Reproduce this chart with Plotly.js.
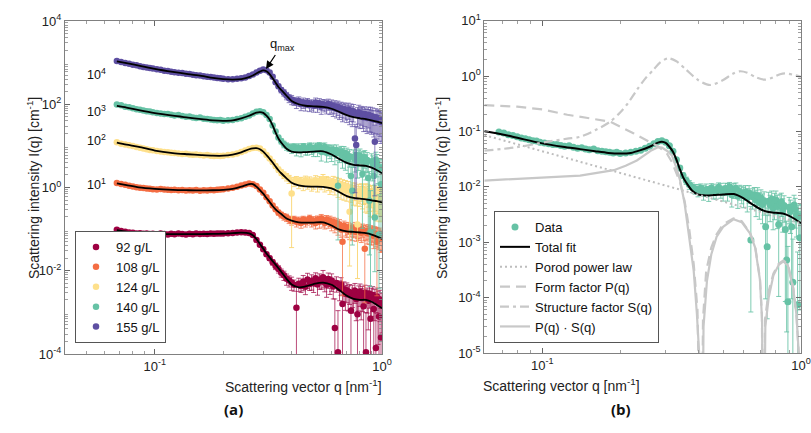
<!DOCTYPE html>
<html><head><meta charset="utf-8">
<script src="https://cdn.plot.ly/plotly-3.0.1.min.js"></script>
<style>html,body{margin:0;padding:0;background:#fff}#chart{width:811px;height:433px}</style>
</head><body><div id="chart"></div>
<script>
// ---- scattering vector grid of the measured data (nm^-1)
const Q = [
0.068,0.071,0.074,0.077,0.080,0.083,0.086,0.089,0.092,0.095,
0.098,0.102,0.106,0.110,0.114,0.118,0.122,0.127,0.132,0.137,
0.142,0.147,0.152,0.158,0.164,0.170,0.176,0.182,0.188,0.194,
0.20,0.21,0.22,0.23,0.24,0.25,0.26,0.27,0.28,0.29,
0.30,0.31,0.32,0.33,0.34,0.35,0.36,0.37,0.38,0.39,
0.40,0.41,0.42,0.43,0.44,0.45,0.46,0.47,0.48,0.49,
0.50,0.51,0.52,0.53,0.54,0.55,0.56,0.57,0.58,0.59,
0.60,0.61,0.62,0.63,0.64,0.65,0.66,0.67,0.68,0.69,
0.70,0.71,0.72,0.73,0.74,0.75,0.76,0.77,0.78,0.79,
0.80,0.81,0.82,0.83,0.84,0.85,0.86,0.87,0.88,0.89,
0.90,0.91,0.92,0.93,0.94,0.95,0.96,0.97,0.98,0.99,
1.00];

const seriesNames = ['92 g/L','108 g/L','124 g/L','140 g/L','155 g/L'];
const seriesColors = ['#9E0142','#F46D43','#FEE08B','#66C2A5','#5E4FA2'];
const errColors = ['rgba(158,1,66,0.7)','rgba(244,109,67,0.75)','rgba(250,215,120,0.95)','rgba(102,194,165,0.85)','rgba(94,79,162,0.7)'];
const shiftFactors = [1,10,100,1000,10000];
const shiftLabels = ['', '10<sup>1</sup>','10<sup>2</sup>','10<sup>3</sup>','10<sup>4</sup>'];

// ---- measured intensities I(q) in cm^-1 (unshifted)
const I92 = [
0.097,0.090,0.086,0.083,0.082,0.079,0.080,0.077,0.078,0.076,
0.077,0.075,0.078,0.076,0.074,0.077,0.075,0.078,0.076,0.074,
0.077,0.075,0.078,0.076,0.077,0.076,0.078,0.077,0.079,0.078,
0.079,0.080,0.081,0.083,0.084,0.083,0.081,0.072,0.055,0.042,
0.033,0.025,0.020,0.016,0.013,0.011,0.0090,0.0078,0.0064,0.0058,
0.0052,0.0046,0.0013,0.0049,0.0043,0.0055,0.0041,0.0062,0.0048,0.0057,
0.0050,0.0066,0.0047,0.0060,0.0055,0.0070,0.0052,0.0046,0.0063,0.0049,
0.0058,0.0042,0.00042,0.0051,0.00011,0.0038,0.0047,0.0016,0.0036,0.0028,
0.0034,0.0027,0.0031,0.0011,0.0029,0.0024,0.0033,0.0021,0.0009,0.0027,
0.0031,0.0022,0.0026,0.0014,0.0030,0.00011,0.0024,0.0019,0.0028,0.0007,
0.0023,0.0026,0.0012,0.0021,0.00014,0.0024,0.0017,0.0008,0.0020,0.00025,
0.0016];
const I108 = [
0.128,0.121,0.116,0.110,0.106,0.102,0.099,0.097,0.094,0.093,
0.091,0.090,0.092,0.089,0.088,0.087,0.088,0.086,0.087,0.085,
0.086,0.085,0.087,0.084,0.086,0.085,0.087,0.086,0.088,0.089,
0.091,0.094,0.098,0.104,0.111,0.118,0.124,0.120,0.108,0.090,
0.075,0.058,0.047,0.037,0.030,0.025,0.022,0.020,0.019,0.017,
0.016,0.017,0.015,0.016,0.014,0.017,0.015,0.016,0.018,0.015,
0.016,0.014,0.017,0.015,0.018,0.016,0.014,0.017,0.015,0.016,
0.013,0.015,0.012,0.014,0.011,0.013,0.0098,0.0050,0.012,0.0105,
0.0096,0.011,0.0090,0.010,0.0088,0.0095,0.0105,0.0085,0.0093,0.0089,
0.0094,0.0082,0.0098,0.0087,0.0034,0.0090,0.0080,0.0092,0.0078,0.0086,
0.0075,0.0083,0.0068,0.0079,0.0072,0.0050,0.0070,0.0064,0.0073,0.0061,
0.0058];
const I124 = [
0.122,0.113,0.108,0.104,0.099,0.094,0.090,0.087,0.083,0.080,
0.078,0.075,0.073,0.071,0.070,0.068,0.067,0.066,0.064,0.065,
0.062,0.061,0.062,0.060,0.059,0.060,0.058,0.057,0.058,0.057,
0.058,0.060,0.062,0.066,0.071,0.077,0.084,0.089,0.090,0.086,
0.074,0.060,0.050,0.041,0.033,0.027,0.023,0.020,0.018,0.016,
0.0072,0.014,0.015,0.013,0.014,0.012,0.015,0.013,0.014,0.012,
0.013,0.015,0.012,0.014,0.013,0.016,0.012,0.014,0.013,0.011,
0.012,0.014,0.011,0.013,0.010,0.012,0.0095,0.011,0.0090,0.0105,
0.0085,0.0098,0.0026,0.0080,0.0092,0.0075,0.0088,0.0072,0.0013,0.0080,
0.0070,0.0085,0.0068,0.0078,0.0064,0.0082,0.0060,0.0075,0.0066,0.0058,
0.0072,0.0055,0.0068,0.0060,0.0065,0.0052,0.0062,0.0057,0.0050,0.0059,
0.0052];
const I140 = [
0.098,0.094,0.087,0.085,0.080,0.076,0.074,0.071,0.068,0.067,
0.064,0.062,0.060,0.058,0.058,0.056,0.054,0.055,0.052,0.050,
0.051,0.048,0.047,0.048,0.045,0.044,0.043,0.042,0.041,0.042,
0.040,0.041,0.042,0.044,0.046,0.050,0.054,0.060,0.066,0.068,
0.064,0.055,0.044,0.031,0.022,0.016,0.013,0.011,0.0098,0.0092,
0.0088,0.0094,0.0082,0.0090,0.0078,0.0095,0.0086,0.0080,0.0098,0.0089,
0.0079,0.0093,0.0085,0.0100,0.0072,0.0088,0.0094,0.0068,0.0082,0.0076,
0.0070,0.0081,0.0064,0.0078,0.0011,0.0066,0.0072,0.0058,0.0069,0.0052,
0.0063,0.0048,0.0056,0.0019,0.00083,0.0055,0.0047,0.0060,0.0042,0.0051,
0.0058,0.0044,0.0021,0.0049,0.0053,0.0038,0.0046,0.0017,0.00048,0.000084,
0.0043,0.0036,0.0019,0.00019,0.0047,0.0040,0.0031,0.000074,0.0029,0.0012,
0.0030];
const I155 = [
0.110,0.103,0.098,0.094,0.089,0.086,0.082,0.079,0.076,0.074,
0.072,0.069,0.067,0.064,0.063,0.060,0.059,0.057,0.056,0.054,
0.053,0.051,0.050,0.049,0.047,0.046,0.045,0.044,0.043,0.042,
0.041,0.040,0.040,0.041,0.042,0.044,0.048,0.052,0.058,0.064,
0.068,0.066,0.058,0.046,0.034,0.027,0.022,0.019,0.016,0.014,
0.013,0.012,0.011,0.012,0.010,0.011,0.0098,0.011,0.0095,0.010,
0.0092,0.011,0.0094,0.0105,0.0088,0.010,0.0096,0.0090,0.0102,0.0087,
0.0094,0.0082,0.0090,0.0078,0.0086,0.0074,0.0080,0.0069,0.0077,0.0072,
0.0066,0.0075,0.0062,0.0070,0.0058,0.0068,0.0015,0.00105,0.0056,0.0064,
0.0052,0.0060,0.0055,0.0049,0.0058,0.0050,0.0047,0.0056,0.0048,0.0053,
0.0045,0.0051,0.0043,0.00126,0.0049,0.0042,0.0046,0.0040,0.0044,0.0038,
0.0037];

// ---- relative uncertainties of the measured intensities
const E92 = [
.03,.03,.03,.03,.03,.03,.03,.03,.03,.03,
.03,.03,.03,.03,.03,.03,.03,.03,.03,.03,
.03,.03,.03,.03,.03,.03,.03,.03,.03,.03,
.03,.03,.03,.03,.03,.04,.04,.05,.06,.07,
.08,.1,.12,.15,.18,.2,.22,.25,.3,.3,
.35,.3,3,.35,.3,.4,.35,.4,.3,.4,
.4,.35,.45,.4,.35,.45,.4,.5,.4,.45,
.45,.5,4,.4,9,.5,.45,1.5,.5,.6,
.5,.6,.5,1.5,.55,.6,.5,.7,2,.6,
.55,.7,.6,1.2,.5,8,.6,.8,.55,2.5,
.65,.6,1.5,.7,6,.6,.9,2,.7,4,
.8];
const E108 = [
.03,.03,.03,.03,.03,.03,.03,.03,.03,.03,
.03,.03,.03,.03,.03,.03,.03,.03,.03,.03,
.03,.03,.03,.03,.03,.03,.03,.03,.03,.03,
.03,.03,.03,.03,.03,.03,.04,.04,.05,.05,
.06,.07,.08,.1,.12,.14,.16,.18,.2,.2,
.22,.2,.25,.22,.25,.2,.25,.22,.2,.25,
.25,.28,.22,.3,.25,.3,.28,.25,.3,.28,
.3,.28,.32,.3,.35,.3,.35,1.5,.3,.35,
.35,.32,.38,.35,.4,.35,.38,.4,.35,.4,
.38,.42,.35,.4,1.5,.4,.45,.38,.45,.4,
.45,.42,.5,.45,.48,1.2,.5,.5,.45,.55,
.5];
const E124 = [
.03,.03,.03,.03,.03,.03,.03,.03,.03,.03,
.03,.03,.03,.03,.03,.03,.03,.03,.03,.03,
.03,.03,.03,.03,.03,.03,.03,.03,.03,.03,
.03,.03,.03,.03,.04,.04,.04,.04,.05,.05,
.06,.07,.08,.1,.12,.14,.16,.18,.2,.22,
1.2,.25,.22,.28,.25,.3,.25,.3,.28,.32,
.3,.28,.35,.3,.32,.28,.35,.3,.35,.38,
.35,.32,.4,.35,.42,.38,.45,.4,.45,.4,
.45,.42,2.5,.45,.4,.5,.45,.5,4,.48,
.5,.45,.55,.5,.6,.5,.6,.55,.6,.65,
.55,.65,.6,.62,.6,.7,.62,.65,.7,.65,
.7];
const E140 = [
.03,.03,.03,.03,.03,.03,.03,.03,.03,.03,
.03,.03,.03,.03,.03,.03,.03,.03,.03,.03,
.04,.04,.04,.04,.04,.04,.04,.04,.04,.04,
.04,.04,.05,.05,.05,.05,.05,.05,.05,.05,
.06,.06,.07,.08,.1,.12,.15,.18,.2,.2,
.25,.2,.3,.25,.3,.2,.3,.25,.2,.3,
.3,.25,.35,.2,.4,.3,.25,.4,.3,.35,
.4,.3,.45,.35,3,.4,.35,.5,.4,.5,
.4,.55,.45,1.5,4,.45,.5,.4,.6,.5,
.45,.6,1.2,.5,.45,.6,.5,1.5,4,9,
.5,.6,1.5,5,.5,.55,.6,8,.6,2,
.6];
const E155 = [
.03,.03,.03,.03,.03,.03,.03,.03,.03,.03,
.03,.03,.03,.03,.03,.03,.03,.03,.03,.03,
.03,.03,.03,.03,.03,.03,.03,.03,.03,.03,
.03,.03,.03,.03,.03,.04,.04,.04,.05,.05,
.05,.06,.07,.08,.1,.12,.15,.18,.2,.22,
.25,.22,.28,.25,.3,.28,.3,.25,.3,.28,
.3,.28,.32,.3,.35,.3,.32,.35,.3,.35,
.35,.38,.35,.4,.38,.42,.4,.45,.4,.42,
.45,.42,.48,.45,.5,.45,1.2,1.8,.5,.48,
.5,.48,.52,.55,.5,.55,.58,.52,.55,.6,
.58,.6,.62,1.5,.6,.65,.6,.68,.62,.7,
.65];

// ---- model fits (cm^-1, unshifted)
const QF = [0.068,0.075,0.085,0.10,0.12,0.14,0.16,0.18,0.20,0.22,0.24,0.26,0.27,0.28,0.29,0.30,0.31,0.32,0.33,0.34,0.35,0.36,0.38,0.40,0.43,0.46,0.50,0.55,0.60,0.65,0.70,0.75,0.80,0.85,0.90,0.95,1.00];
const QFR = [0.0597].concat(QF);
const fit92 = [0.095,0.087,0.081,0.077,0.076,0.076,0.076,0.077,0.078,0.080,0.082,0.079,0.071,0.058,0.044,0.034,0.026,0.021,0.017,0.014,0.0115,0.0095,0.0064,0.0047,0.0040,0.0042,0.0048,0.0052,0.0046,0.0034,0.0025,0.0021,0.0020,0.0020,0.0018,0.0015,0.00126];
const fit108 = [0.126,0.114,0.101,0.093,0.088,0.086,0.085,0.086,0.088,0.093,0.105,0.121,0.121,0.105,0.087,0.071,0.056,0.045,0.036,0.030,0.026,0.023,0.018,0.016,0.0146,0.0143,0.0144,0.0145,0.0122,0.0097,0.0088,0.0086,0.0083,0.0080,0.0074,0.0066,0.0058];
const fit124 = [0.120,0.107,0.095,0.077,0.067,0.063,0.060,0.058,0.058,0.062,0.070,0.083,0.087,0.088,0.083,0.073,0.060,0.049,0.040,0.032,0.026,0.022,0.0166,0.0130,0.0112,0.0106,0.0105,0.0104,0.0095,0.0077,0.0062,0.0056,0.0054,0.0052,0.0049,0.0047,0.0044];
const fit140 = [0.101,0.091,0.083,0.072,0.061,0.053,0.048,0.044,0.041,0.040,0.041,0.046,0.053,0.058,0.063,0.065,0.062,0.053,0.043,0.031,0.021,0.015,0.012,0.0085,0.0073,0.0070,0.0071,0.0073,0.0074,0.0062,0.0048,0.0039,0.0035,0.0034,0.0033,0.0030,0.0026,0.0022];
const fit155 = [0.107,0.097,0.085,0.071,0.060,0.053,0.048,0.043,0.040,0.039,0.040,0.045,0.049,0.055,0.061,0.065,0.062,0.053,0.042,0.033,0.026,0.022,0.016,0.012,0.0100,0.0092,0.0089,0.0086,0.0078,0.0065,0.0055,0.0049,0.0046,0.0044,0.0041,0.0038,0.0035];

// ---- model components for 140 g/L
const porodQ = [0.0597,1.0];
const porodI = [0.086,0.0022];
const QP = [0.0597,0.08,0.10,0.125,0.15,0.183,0.225,0.254,0.28,0.303,0.317,0.331,0.341,0.355,0.37,0.385,0.398,0.412,0.418,0.43,0.45,0.472,0.50,0.548,0.59,0.635,0.665,0.694,0.706,0.716,0.726,0.75,0.782,0.82,0.855,0.89,0.934,0.96,0.98,0.995];
const formP = [0.30,0.28,0.25,0.20,0.175,0.15,0.093,0.070,0.054,0.040,0.028,0.017,0.012,0.0055,0.0017,0.0004,0.00006,1e-8,0.00004,0.0003,0.0008,0.0014,0.0021,0.0027,0.0024,0.0015,0.00085,0.00022,0.00005,1e-8,0.00004,0.00013,0.00027,0.00041,0.00047,0.0004,0.00015,0.00005,0.00001,1e-8];
const QS = [0.0597,0.08,0.104,0.125,0.14,0.16,0.183,0.20,0.215,0.232,0.25,0.269,0.285,0.307,0.33,0.36,0.40,0.445,0.50,0.545,0.58,0.62,0.67,0.726,0.78,0.83,0.867,0.93,1.0];
const structS = [0.045,0.052,0.065,0.074,0.080,0.105,0.15,0.22,0.33,0.56,0.90,1.30,1.75,2.10,1.85,1.30,0.85,0.69,0.85,1.10,1.22,1.15,0.95,0.86,0.95,1.08,1.12,1.06,0.97];
const QPS = [0.0597,0.10,0.14,0.189,0.21,0.232,0.25,0.265,0.28,0.29,0.305,0.317,0.33,0.341,0.355,0.373,0.385,0.396,0.405,0.414,0.42,0.433,0.45,0.472,0.50,0.548,0.59,0.635,0.665,0.694,0.707,0.716,0.728,0.75,0.782,0.82,0.855,0.89,0.934,0.96,0.98,0.997];
const prodPS = [0.013,0.0145,0.016,0.020,0.024,0.030,0.038,0.046,0.052,0.051,0.044,0.037,0.022,0.013,0.005,0.00083,0.0003,0.00005,0.000008,1e-8,0.00003,0.0002,0.0006,0.00126,0.0019,0.0026,0.0023,0.00145,0.0008,0.00021,0.00004,1e-8,0.00003,0.0001,0.00025,0.00039,0.00045,0.00038,0.00014,0.00005,0.00001,1e-8];

const dataI = [I92,I108,I124,I140,I155];
const dataE = [E92,E108,E124,E140,E155];
const fits = [fit92,fit108,fit124,fit140.slice(1),fit155];

const W = 811, H = 433;
const px = x => x / W, py = y => 1 - y / H;
const FONT = 'Liberation Sans, Arial, Helvetica, sans-serif';

function errBars(I, E, k, color) {
  return {type:'data', symmetric:false,
    array: I.map((v,i)=>v*E[i]*k),
    arrayminus: I.map((v,i)=>v*Math.min(E[i],0.95)*k),
    color: color, thickness: 1, width: 2.5};
}

const traces = [];
for (let s = 0; s < 5; s++) {
  const k = shiftFactors[s];
  traces.push({type:'scatter', mode:'markers', x:Q, y:dataI[s].map(v=>v*k),
    name: seriesNames[s], xaxis:'x', yaxis:'y', legend:'legend',
    marker:{color:seriesColors[s], size:6.5, line:{width:0}},
    error_y: errBars(dataI[s], dataE[s], k, errColors[s]), hoverinfo:'skip'});
}
for (let s = 0; s < 5; s++) {
  const k = shiftFactors[s];
  traces.push({type:'scatter', mode:'lines', x:QF, y:fits[s].map(v=>v*k),
    xaxis:'x', yaxis:'y', showlegend:false,
    line:{color:'#000', width:1.8, shape:'spline', smoothing:0.8}, hoverinfo:'skip'});
}
// right panel
traces.push({type:'scatter', mode:'markers', x:Q, y:I140, name:'Data', xaxis:'x2', yaxis:'y2', legend:'legend2',
  marker:{color:seriesColors[3], size:7, line:{width:0}}, error_y: errBars(I140, E140, 1, errColors[3]), hoverinfo:'skip'});
traces.push({type:'scatter', mode:'lines', x:QFR, y:fit140, name:'Total fit', xaxis:'x2', yaxis:'y2', legend:'legend2',
  line:{color:'#000', width:2, shape:'spline', smoothing:0.8}, hoverinfo:'skip'});
traces.push({type:'scatter', mode:'lines', x:porodQ, y:porodI, name:'Porod power law', xaxis:'x2', yaxis:'y2', legend:'legend2',
  line:{color:'#bdbdbd', width:2, dash:'2px,3px'}, hoverinfo:'skip'});
traces.push({type:'scatter', mode:'lines', x:QP, y:formP, name:'Form factor P(q)', xaxis:'x2', yaxis:'y2', legend:'legend2',
  line:{color:'#c8c8c8', width:2.2, dash:'10px,6px'}, hoverinfo:'skip'});
traces.push({type:'scatter', mode:'lines', x:QS, y:structS, name:'Structure factor S(q)', xaxis:'x2', yaxis:'y2', legend:'legend2',
  line:{color:'#c8c8c8', width:2.2, dash:'9px,4px,3px,4px', shape:'spline', smoothing:0.8}, hoverinfo:'skip'});
traces.push({type:'scatter', mode:'lines', x:QPS, y:prodPS, name:'P(q) · S(q)', xaxis:'x2', yaxis:'y2', legend:'legend2',
  line:{color:'#c8c8c8', width:2.2}, hoverinfo:'skip'});

function decadeVals(lo, hi, step){ const v=[]; for(let e=lo;e<=hi;e+=step) v.push(Math.pow(10,e)); return v; }
function minorVals(lo, hi){ const v=[]; for(let e=lo;e<hi;e++) for(let m=2;m<=9;m++) v.push(m*Math.pow(10,e)); return v; }
function powLabel(e){ return '10<sup>'+e+'</sup>'; }

const axBase = {type:'log', showline:true, linecolor:'#808080', linewidth:1, mirror:'ticks',
  ticks:'inside', ticklen:5, tickwidth:1, tickcolor:'#666', showgrid:false, zeroline:false,
  tickfont:{family:FONT, size:13, color:'#222'}, tickmode:'array'};
const minorBase = {ticks:'inside', ticklen:3, tickwidth:0.8, tickcolor:'#888', showgrid:false, tickmode:'array'};

const yLeftVals = decadeVals(-4,4,2);
const yLeftText = [-4,-2,0,2,4].map(powLabel);
const yLeftOdd = decadeVals(-3,3,2);
const yRightVals = decadeVals(-5,1,1);
const yRightText = [-5,-4,-3,-2,-1,0,1].map(powLabel);

const layout = {
  width:W, height:H, margin:{l:0,r:0,t:0,b:0}, paper_bgcolor:'#fff', plot_bgcolor:'rgba(0,0,0,0)',
  font:{family:FONT, size:13, color:'#222'}, showlegend:true,
  xaxis: Object.assign({}, axBase, {domain:[px(65),px(382)], range:[Math.log10(0.0402),0], anchor:'y',
    tickvals:[0.1,1], ticktext:[powLabel(-1),powLabel(0)], minor:Object.assign({}, minorBase, {tickvals:minorVals(-2,0)})}),
  yaxis: Object.assign({}, axBase, {domain:[py(354),py(21)], range:[-4,4], anchor:'x',
    tickvals:yLeftVals, ticktext:yLeftText, minor:Object.assign({}, minorBase, {tickvals:minorVals(-4,4)})}),
  yaxis3: {type:'log', overlaying:'y', anchor:'x', side:'left', range:[-4,4], showline:false, mirror:'ticks',
    ticks:'inside', ticklen:5, tickwidth:1, tickcolor:'#666', showgrid:false, zeroline:false,
    showticklabels:false, tickmode:'array', tickvals:yLeftOdd},
  xaxis2: Object.assign({}, axBase, {domain:[px(484.3),px(801)], range:[Math.log10(0.0597),0], anchor:'y2',
    tickvals:[0.1,1], ticktext:[powLabel(-1),powLabel(0)], minor:Object.assign({}, minorBase, {tickvals:minorVals(-2,0)})}),
  yaxis2: Object.assign({}, axBase, {domain:[py(353),py(20.7)], range:[-5,1], anchor:'x2',
    tickvals:yRightVals, ticktext:yRightText, minor:Object.assign({}, minorBase, {tickvals:minorVals(-5,1)})}),
  legend: {x:px(75), y:py(343), xanchor:'left', yanchor:'bottom', bgcolor:'#fff', bordercolor:'#555', borderwidth:1,
    font:{family:FONT, size:13, color:'#111'}, itemsizing:'trace', tracegroupgap:0},
  legend2: {x:px(494), y:py(343), xanchor:'left', yanchor:'bottom', bgcolor:'#fff', bordercolor:'#555', borderwidth:1,
    font:{family:FONT, size:13, color:'#111'}, itemsizing:'trace', tracegroupgap:0},
  annotations: [
    {xref:'paper', yref:'paper', x:px(22), y:py(188), text:'Scattering intensity I(q) [cm<sup>-1</sup>]', textangle:-90, showarrow:false, font:{family:FONT, size:14, color:'#222'}},
    {xref:'paper', yref:'paper', x:px(223), y:py(397), text:'Scattering vector q [nm<sup>-1</sup>]', showarrow:false, font:{family:FONT, size:14, color:'#222'}},
    {xref:'paper', yref:'paper', x:px(222), y:py(421), text:'<b>(a)</b>', showarrow:false, font:{family:'Open Sans, sans-serif', size:15, color:'#111'}},
    {xref:'paper', yref:'paper', x:px(441), y:py(188), text:'Scattering intensity I(q) [cm<sup>-1</sup>]', textangle:-90, showarrow:false, font:{family:FONT, size:14, color:'#222'}},
    {xref:'paper', yref:'paper', x:px(642), y:py(396), text:'Scattering vector q [nm<sup>-1</sup>]', showarrow:false, font:{family:FONT, size:14, color:'#222'}},
    {xref:'paper', yref:'paper', x:px(633), y:py(421), text:'<b>(b)</b>', showarrow:false, font:{family:'Open Sans, sans-serif', size:15, color:'#111'}},
    {xref:'paper', yref:'paper', x:px(85), y:py(64), text:shiftLabels[4], showarrow:false, font:{family:FONT, size:12.5, color:'#111'}},
    {xref:'paper', yref:'paper', x:px(85), y:py(101), text:shiftLabels[3], showarrow:false, font:{family:FONT, size:12.5, color:'#111'}},
    {xref:'paper', yref:'paper', x:px(85), y:py(130), text:shiftLabels[2], showarrow:false, font:{family:FONT, size:12.5, color:'#111'}},
    {xref:'paper', yref:'paper', x:px(85), y:py(184), text:shiftLabels[1], showarrow:false, font:{family:FONT, size:12.5, color:'#111'}},
    {xref:'paper', yref:'paper', x:px(266), y:py(69), ax:16, ay:-24, text:'q<sub>max</sub>', showarrow:true,
      arrowhead:2, arrowsize:1.3, arrowwidth:1.2, arrowcolor:'#000', standoff:0, font:{family:FONT, size:13, color:'#111'}}
  ]
};

Plotly.newPlot('chart', traces, layout, {staticPlot:true, displayModeBar:false});
</script>
</body></html>
